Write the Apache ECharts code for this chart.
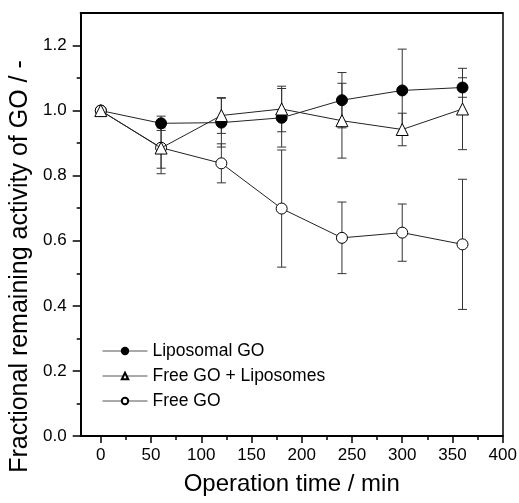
<!DOCTYPE html>
<html>
<head>
<meta charset="utf-8">
<script src="https://cdn.jsdelivr.net/npm/echarts@6/dist/echarts.min.js"></script>
<style>
  html, body { margin: 0; padding: 0; background: #fff; }
  #chart { width: 519px; height: 503px; }
</style>
</head>
<body>
<div id="chart"></div>
<script>
// operation time, min
var times = [0, 60, 120, 180, 240, 300, 360];
// fractional remaining activity (mean) and error (half-length of bar)
var liposomalGO = [1.0, 0.961, 0.963, 0.978, 1.032, 1.062, 1.071];
var liposomalGOErr = [0, 0.022, 0.075, 0.09, 0.085, 0.127, 0.03];
var freeGOLipo = [1.0, 0.885, 0.985, 1.005, 0.969, 0.942, 1.005];
var freeGOLipoErr = [0, 0.062, 0.055, 0.07, 0.115, 0.05, 0.125];
var freeGO = [1.0, 0.886, 0.838, 0.699, 0.609, 0.625, 0.589];
var freeGOErr = [0, 0.08, 0.06, 0.18, 0.11, 0.088, 0.2];

var xTicks = [0, 50, 100, 150, 200, 250, 300, 350, 400];
var xMinorTicks = [25, 75, 125, 175, 225, 275, 325, 375];
var yTicks = [0, 0.2, 0.4, 0.6, 0.8, 1.0, 1.2];
var yMinorTicks = [0.1, 0.3, 0.5, 0.7, 0.9, 1.1];

var font = '"Liberation Sans", Arial, sans-serif';
var chart = echarts.init(document.getElementById('chart'));

function pairs(vals) {
  return times.map(function (t, i) { return [t, vals[i]]; });
}

// error bars drawn as a custom series: [x, low, high]
function errSeries(vals, errs, z) {
  return {
    type: 'custom',
    z: z,
    silent: true,
    data: times.map(function (t, i) { return [t, vals[i] - errs[i], vals[i] + errs[i]]; }),
    renderItem: function (params, api) {
      if (api.value(2) - api.value(1) <= 0) return null;
      var top = api.coord([api.value(0), api.value(2)]);
      var bot = api.coord([api.value(0), api.value(1)]);
      var w = 4.5;
      var st = { stroke: '#333', lineWidth: 1, fill: null };
      return {
        type: 'group',
        children: [
          { type: 'line', shape: { x1: top[0], y1: top[1], x2: bot[0], y2: bot[1] }, style: st },
          { type: 'line', shape: { x1: top[0] - w, y1: top[1], x2: top[0] + w, y2: top[1] }, style: st },
          { type: 'line', shape: { x1: bot[0] - w, y1: bot[1], x2: bot[0] + w, y2: bot[1] }, style: st }
        ]
      };
    }
  };
}

function lineSeries(name, vals, symbol, size, fill, z) {
  return {
    name: name,
    type: 'line',
    data: pairs(vals),
    symbol: symbol,
    symbolSize: size,
    showAllSymbol: true,
    z: z,
    lineStyle: { color: '#222', width: 1 },
    itemStyle: { color: fill, borderColor: '#000', borderWidth: 1 },
    emphasis: { disabled: true },
    animation: false
  };
}

var option = {
  animation: false,
  grid: { left: 80.7, right: 16.3, top: 13, bottom: 67, outerBoundsMode: 'none' },
  legend: {
    data: ['Liposomal GO', 'Free GO + Liposomes', 'Free GO'],
    orient: 'vertical',
    left: 102,
    top: 342,
    padding: 0,
    itemWidth: 45,
    itemHeight: 8,
    itemGap: 7,
    lineStyle: { color: '#555', width: 1 },
    textStyle: { fontFamily: font, fontSize: 17.5, color: '#000' }
  },
  xAxis: [
    {
      type: 'value', min: -20, max: 400, position: 'bottom',
      axisLine: { onZero: false, lineStyle: { color: '#000', width: 2 } },
      axisTick: { customValues: xTicks, length: 7, lineStyle: { color: '#000', width: 1.5 } },
      axisLabel: { customValues: xTicks, fontFamily: font, fontSize: 17, color: '#000', margin: 11 },
      splitLine: { show: false },
      name: 'Operation time / min', nameLocation: 'middle', nameGap: 36,
      nameTextStyle: { fontFamily: font, fontSize: 24, color: '#000' }
    },
    {
      type: 'value', min: -20, max: 400, position: 'bottom',
      axisLine: { show: false, onZero: false },
      axisTick: { customValues: xMinorTicks, length: 4, lineStyle: { color: '#000', width: 1.5 } },
      axisLabel: { show: false },
      splitLine: { show: false }
    },
    {
      type: 'value', min: -20, max: 400, position: 'top',
      axisLine: { onZero: false, lineStyle: { color: '#000', width: 2 } },
      axisTick: { show: false }, axisLabel: { show: false }, splitLine: { show: false }
    }
  ],
  yAxis: [
    {
      type: 'value', min: 0, max: 1.3, position: 'left',
      axisLine: { onZero: false, lineStyle: { color: '#000', width: 2 } },
      axisTick: { customValues: yTicks, length: 8, lineStyle: { color: '#000', width: 1.5 } },
      axisLabel: {
        customValues: yTicks, fontFamily: font, fontSize: 17, color: '#000', margin: 14,
        formatter: function (v) { return v.toFixed(1); }
      },
      splitLine: { show: false },
      name: 'Fractional remaining activity of GO / -', nameLocation: 'middle', nameGap: 42,
      nameTextStyle: { fontFamily: font, fontSize: 25, color: '#000', padding: [0, 84, 0, 0] }
    },
    {
      type: 'value', min: 0, max: 1.3, position: 'left',
      axisLine: { show: false, onZero: false },
      axisTick: { customValues: yMinorTicks, length: 4, lineStyle: { color: '#000', width: 1.5 } },
      axisLabel: { show: false },
      splitLine: { show: false }
    },
    {
      type: 'value', min: 0, max: 1.3, position: 'right',
      axisLine: { onZero: false, lineStyle: { color: '#000', width: 1.5 } },
      axisTick: { show: false }, axisLabel: { show: false }, splitLine: { show: false }
    }
  ],
  series: [
    errSeries(liposomalGO, liposomalGOErr, 1),
    errSeries(freeGOLipo, freeGOLipoErr, 1),
    errSeries(freeGO, freeGOErr, 1),
    lineSeries('Liposomal GO', liposomalGO, 'circle', 11, '#000', 2),
    lineSeries('Free GO', freeGO, 'circle', 11, '#fff', 3),
    lineSeries('Free GO + Liposomes', freeGOLipo, 'triangle', 12, '#fff', 4)
  ]
};

chart.setOption(option);
</script>
</body>
</html>
